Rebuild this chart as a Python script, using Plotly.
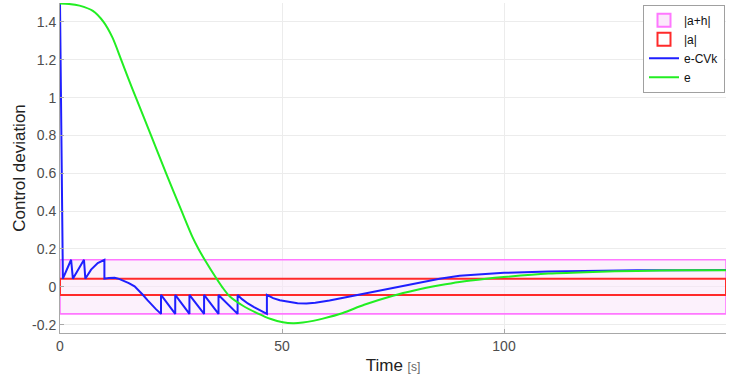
import plotly.graph_objects as go

# ---- data ----
a_band = 0.043          # |a|
ah_band = 0.143         # |a+h|
t_start, t_end = 0, 150

blue_t = [0, 0.65, 2.5, 2.9, 5.4, 5.7, 7.0, 8.5, 10.0, 10.0, 11.0, 12.3, 13.3, 14.3, 15.5,
          16.8, 17.8, 18.7, 19.7, 20.6, 21.6, 22.75, 22.75, 25.95, 25.95, 29.15, 29.15,
          32.45, 32.45, 35.7, 35.7, 40.0, 40.0, 41.0, 42.3, 43.7, 45.1, 46.6, 46.6, 48, 49.5,
          51.5, 53.5, 55.5, 57.5, 60.7, 64.5, 68, 72, 75.8, 80, 85.5, 90, 95, 100, 110,
          120, 130, 140, 150]
blue_v = [1.497, 0.043, 0.143, 0.043, 0.143, 0.043, 0.091, 0.126, 0.143, 0.043, 0.047,
          0.048, 0.042, 0.033, 0.02, 0.003, -0.02, -0.043, -0.07, -0.094, -0.118, -0.143,
          -0.043, -0.143, -0.043, -0.143, -0.043, -0.143, -0.043, -0.143, -0.043, -0.143,
          -0.043, -0.065, -0.088, -0.107, -0.125, -0.143, -0.043, -0.06, -0.071, -0.08,
          -0.087, -0.088, -0.084, -0.072, -0.054, -0.036, -0.018, 0.0, 0.02, 0.043, 0.058,
          0.067, 0.074, 0.081, 0.085, 0.087, 0.088, 0.089]

green_t = [0, 2, 4.4, 7.4, 9.8, 11.8, 13.7, 15.4, 17.1, 20.5, 23.9, 27.4, 29.9, 31.2, 32.8,
           35.2, 36.5, 38.2, 41.2, 44.5, 47.5, 50.2, 52.5, 54.7, 57.0, 59.2, 63.7, 68.5,
           75, 80, 85.5, 90, 96, 100, 110, 120, 130, 140, 150]
green_v = [1.497, 1.495, 1.486, 1.458, 1.4, 1.318, 1.205, 1.1, 1.0, 0.8, 0.6, 0.4, 0.26, 0.2,
           0.135, 0.045, 0.0, -0.05, -0.1, -0.14, -0.17, -0.187, -0.192, -0.189, -0.18,
           -0.168, -0.138, -0.095, -0.047, -0.018, 0.008, 0.026, 0.043, 0.052, 0.07, 0.079,
           0.084, 0.087, 0.088]

x_ticks = [0, 50, 100, 150]
y_ticks = [-0.2, 0, 0.2, 0.4, 0.6, 0.8, 1.0, 1.2, 1.4]
y_tick_text = ["-0.2", "0", "0.2", "0.4", "0.6", "0.8", "1", "1.2", "1.4"]

names = ["|a+h|", "|a|", "e-CVk", "e"]

MAG_LINE, MAG_FILL = "#ff77ff", "rgba(250,228,250,0.5)"
RED_LINE = "#ff2a2a"
BLUE, GREEN = "#1f1fff", "#22ee22"

fig = go.Figure()

def rect(lo, hi):
    return ([t_start, t_end, t_end, t_start, t_start], [lo, lo, hi, hi, lo])

rx, ry = rect(-ah_band, ah_band)
fig.add_trace(go.Scatter(x=rx, y=ry, mode="lines", fill="toself", fillcolor=MAG_FILL,
                         line=dict(color=MAG_LINE, width=1.6), showlegend=False,
                         legendgroup="ah"))
rx, ry = rect(-a_band, a_band)
fig.add_trace(go.Scatter(x=rx, y=ry, mode="lines", fill="toself",
                         fillcolor="rgba(255,255,255,0)",
                         line=dict(color=RED_LINE, width=2), showlegend=False,
                         legendgroup="a"))
# legend-only box entries
fig.add_trace(go.Scatter(x=[None], y=[None], mode="markers", name=names[0], legendgroup="ah",
                         marker=dict(symbol="square", size=13, color="#fbe9fb",
                                     line=dict(color=MAG_LINE, width=2))))
fig.add_trace(go.Scatter(x=[None], y=[None], mode="markers", name=names[1], legendgroup="a",
                         marker=dict(symbol="square", size=13, color="white",
                                     line=dict(color=RED_LINE, width=2))))
fig.add_trace(go.Scatter(x=blue_t, y=blue_v, mode="lines",
                         line=dict(color=BLUE, width=2), name=names[2]))
fig.add_trace(go.Scatter(x=green_t, y=green_v, mode="lines",
                         line=dict(color=GREEN, width=2, shape="spline", smoothing=0.8),
                         name=names[3]))

fig.update_layout(
    width=737, height=383,
    margin=dict(l=60, r=11, t=3, b=50),
    paper_bgcolor="white", plot_bgcolor="white",
    font=dict(family="Arial, Liberation Sans, sans-serif", color="#4d4d4d", size=14),
    showlegend=True,
    legend=dict(x=0.9985, y=0.995, xanchor="right", yanchor="top",
                bgcolor="white", bordercolor="#a0a0a0", borderwidth=1,
                font=dict(size=12, color="#111111"), itemwidth=30,
                tracegroupgap=0),
)
fig.update_xaxes(range=[t_start, t_end], tickvals=x_ticks, showgrid=True,
                 gridcolor="#ececec", showline=True, linecolor="#a8a8a8", linewidth=1,
                 ticks="inside", ticklen=4, tickcolor="#a8a8a8", zeroline=False,
                 title=dict(text="Time <span style='font-size:12px;color:#666'>[s]</span>",
                            font=dict(size=17, color="#222222"), standoff=6))
fig.update_yaxes(range=[-0.244, 1.5], tickvals=y_ticks, ticktext=y_tick_text,
                 showgrid=True, gridcolor="#ececec", showline=True, linecolor="#a8a8a8",
                 linewidth=1, ticks="inside", ticklen=4, tickcolor="#a8a8a8",
                 zeroline=False,
                 title=dict(text="Control deviation", font=dict(size=17, color="#222222"),
                            standoff=2))

fig.write_html("out.html")
